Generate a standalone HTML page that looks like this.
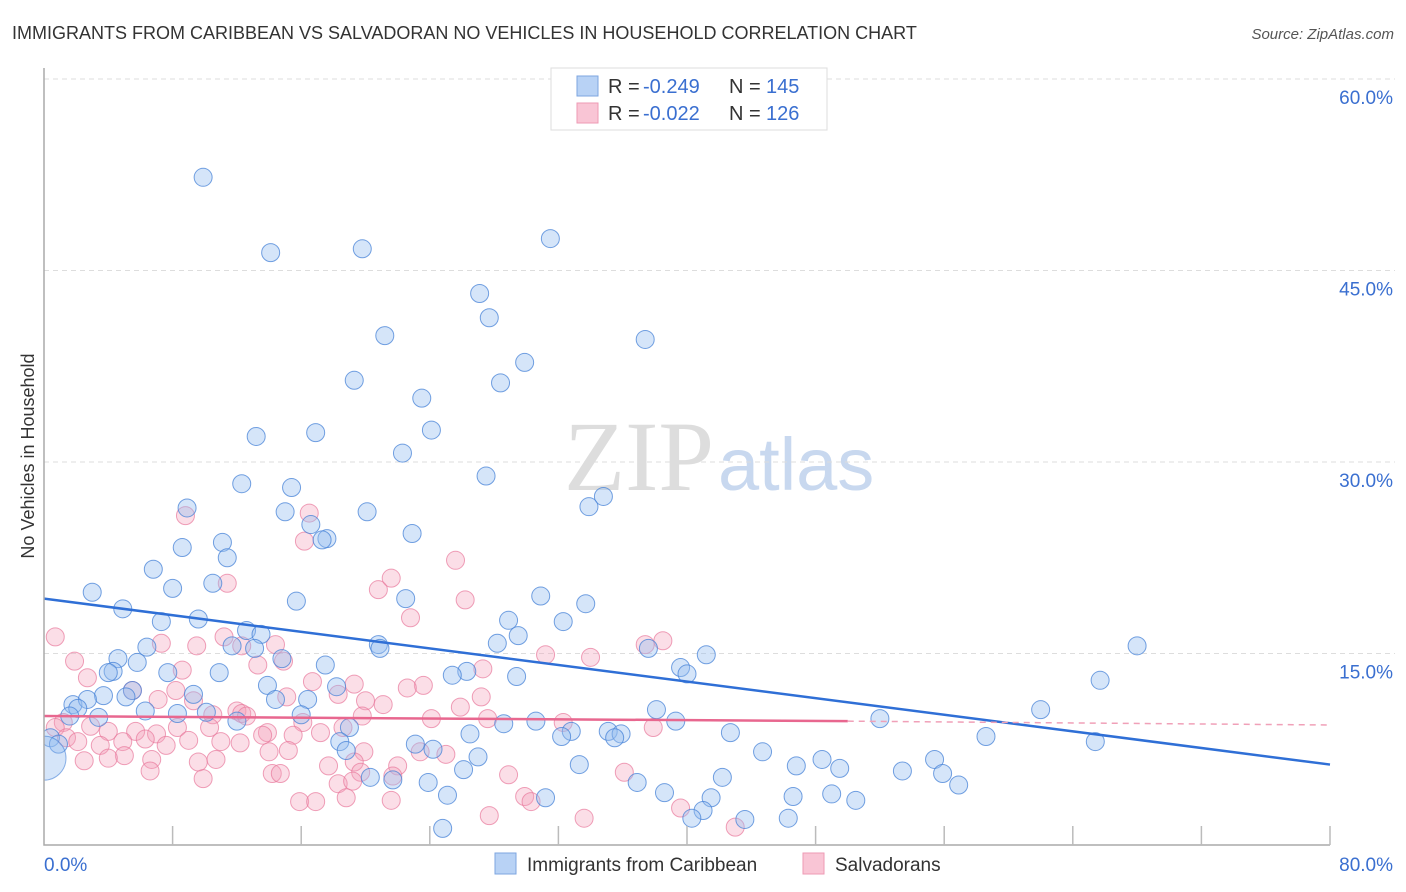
<!DOCTYPE html>
<html><head><meta charset="utf-8">
<style>
body{margin:0;background:#fff;font-family:"Liberation Sans",sans-serif;}
#wrap{position:relative;width:1406px;height:892px;overflow:hidden;}
</style></head>
<body>
<div id="wrap">
<svg id="svg" width="1406" height="892" xmlns="http://www.w3.org/2000/svg">
<defs><clipPath id="plotclip"><rect x="44" y="60" width="1360" height="785"/></clipPath></defs>
<text x="12" y="39" font-size="18" fill="#333">IMMIGRANTS FROM CARIBBEAN VS SALVADORAN NO VEHICLES IN HOUSEHOLD CORRELATION CHART</text>
<text x="1394" y="39" font-size="15" fill="#555" font-style="italic" text-anchor="end">Source: ZipAtlas.com</text>
<text transform="translate(34,456) rotate(-90)" font-size="18" fill="#333" text-anchor="middle">No Vehicles in Household</text>
<text x="714" y="490" font-size="100" fill="#ddd" text-anchor="end" font-family="Liberation Serif,serif">ZIP</text>
<text x="718" y="490" font-size="74" fill="#c8d8ef">atlas</text>
<g id="grid"></g>
<g id="marks" clip-path="url(#plotclip)"></g>
<g id="axes"></g>
<g>
<rect x="551" y="68" width="276" height="62" fill="#fff" stroke="#ddd"/>
<rect x="577" y="76" width="21" height="20" fill="#b8d2f5" stroke="#7ea6e0"/>
<rect x="577" y="103" width="21" height="20" fill="#f9c5d5" stroke="#ee9ab4"/>
<text x="608" y="93" font-size="20" fill="#333">R =</text>
<text x="643" y="93" font-size="20" fill="#3a6fd0">-0.249</text>
<text x="729" y="93" font-size="20" fill="#333">N =</text>
<text x="766" y="93" font-size="20" fill="#3a6fd0">145</text>
<text x="608" y="120" font-size="20" fill="#333">R =</text>
<text x="643" y="120" font-size="20" fill="#3a6fd0">-0.022</text>
<text x="729" y="120" font-size="20" fill="#333">N =</text>
<text x="766" y="120" font-size="20" fill="#3a6fd0">126</text>
</g>
<g>
<rect x="495" y="853" width="21" height="21" fill="#b8d2f5" stroke="#7ea6e0"/>
<text x="527" y="871" font-size="19" fill="#333">Immigrants from Caribbean</text>
<rect x="803" y="853" width="21" height="21" fill="#f9c5d5" stroke="#ee9ab4"/>
<text x="835" y="871" font-size="19" fill="#333">Salvadorans</text>
</g>
</svg>
</div>
<script>
const blueX=[9.9,14.1,19.8,31.5,27.1,27.7,21.2,37.4,29.9,19.3,28.4,23.5,24.1,16.9,13.2,22.3,27.5,12.3,15.4,34.8,33.9,8.9,15.0,20.1,16.6,17.6,17.3,22.9,11.1,8.6,11.4,6.8,10.5,8.0,3.0,30.9,22.5,15.7,33.7,4.9,9.6,7.3,28.9,32.3,12.6,13.5,29.5,28.2,20.8,11.7,20.9,6.4,13.1,37.6,68.0,14.8,4.6,5.8,41.2,17.5,39.6,40.0,4.3,4.0,7.7,10.9,26.3,25.4,29.4,65.7,13.9,5.5,18.2,9.3,3.7,5.1,14.4,16.4,1.8,2.7,2.1,6.3,10.1,38.1,62.0,3.4,1.6,8.3,12.0,16.0,52.0,30.6,39.3,28.6,19.0,32.8,35.1,26.5,35.9,42.7,32.2,35.5,58.6,0.4,65.4,18.4,23.1,24.2,18.8,44.7,0.9,27.0,55.4,48.4,33.3,46.8,49.5,26.1,53.4,55.9,20.3,42.2,21.7,36.9,23.9,56.9,38.6,25.1,49.0,46.6,31.2,41.5,50.5,41.0,40.3,43.6,46.3,24.8];
const blueY=[52.3,46.4,46.7,47.5,43.2,41.3,39.9,39.6,37.8,36.4,36.2,35.0,32.5,32.3,32.0,30.7,28.9,28.3,28.0,27.3,26.5,26.4,26.1,26.1,25.1,24.0,23.9,24.4,23.7,23.3,22.5,21.6,20.5,20.1,19.8,19.5,19.3,19.1,18.9,18.5,17.7,17.5,17.6,17.5,16.8,16.5,16.4,15.8,15.7,15.6,15.4,15.5,15.4,15.4,15.6,14.6,14.6,14.3,14.9,14.1,13.9,13.4,13.6,13.5,13.5,13.5,13.6,13.3,13.2,12.9,12.5,12.1,12.4,11.8,11.7,11.6,11.4,11.4,11.0,11.4,10.7,10.5,10.4,10.6,10.6,10.0,10.1,10.3,9.7,10.2,9.9,9.7,9.7,9.5,9.2,8.9,8.9,8.7,8.7,8.8,8.5,8.4,8.5,8.4,8.1,8.1,7.9,7.5,7.4,7.3,7.9,6.9,6.7,6.7,6.3,6.2,6.0,5.9,5.8,5.6,5.3,5.3,5.1,4.9,4.9,4.7,4.1,3.9,4.0,3.8,3.7,3.7,3.5,2.7,2.1,2.0,2.1,1.3];
const pinkX=[0.7,8.8,16.5,16.2,25.6,21.6,11.4,20.8,26.2,22.8,11.2,12.3,14.4,9.5,7.3,38.5,37.4,31.2,34.0,1.9,14.9,13.3,8.6,27.3,2.7,16.7,19.3,23.6,22.6,5.5,8.2,18.3,15.1,27.2,7.1,9.3,20.0,21.1,12.0,25.9,12.3,10.5,19.8,12.6,24.1,27.6,16.1,1.2,0.7,2.9,32.3,37.9,1.4,4.0,5.7,7.0,8.3,10.3,13.9,15.5,17.2,18.6,2.1,3.5,4.9,6.3,7.6,9.0,11.0,12.2,13.6,15.2,19.9,23.4,25.0,5.0,4.0,2.5,6.7,9.6,10.7,14.0,17.7,19.3,22.0,6.6,14.2,14.7,19.7,28.9,36.1,9.9,18.3,19.2,21.7,29.9,30.3,15.9,16.9,18.8,21.6,39.6,27.7,33.6,43.0];
const pinkY=[16.3,25.8,26.0,23.8,22.3,20.9,20.5,20.0,19.2,17.8,16.3,15.6,15.7,15.6,15.8,16.0,15.7,14.9,14.7,14.4,14.4,14.1,13.7,13.8,13.1,12.8,12.6,12.5,12.3,12.1,12.1,11.8,11.6,11.6,11.4,11.3,11.3,11.0,10.5,10.8,10.3,10.2,10.1,10.1,9.9,9.9,9.6,9.6,9.2,9.3,9.6,9.2,8.4,8.9,8.9,8.7,9.2,9.2,8.8,8.6,8.8,9.2,8.1,7.8,8.1,8.3,7.8,8.2,8.1,8.0,8.6,7.4,7.3,7.3,7.1,7.0,6.8,6.6,6.7,6.5,6.7,7.3,6.2,6.5,6.2,5.8,5.6,5.6,5.7,5.5,5.7,5.2,4.8,5.0,5.4,3.8,3.4,3.4,3.4,3.7,3.5,2.9,2.3,2.1,1.4];
const blueTrend=[19.3,6.3];   // y at x=0 and x=80
const pinkTrend=[10.1,9.7,9.4]; // y at x=0, 50, 80
const yTicks=[15,30,45,60];
const yTickLabels=["15.0%","30.0%","45.0%","60.0%"];
const NS="http://www.w3.org/2000/svg";
const X=v=>44+v/80*1286, Y=v=>845-v/15*191.5;
function mk(tag,attrs,parent){const e=document.createElementNS(NS,tag);for(const k in attrs)e.setAttribute(k,attrs[k]);document.getElementById(parent).appendChild(e);return e;}
yTicks.forEach((t,i)=>{
 const g=mk('line',{x1:44,x2:1395,y1:Y(t),y2:Y(t),stroke:'#ddd','stroke-dasharray':'5,4'},'grid');
 
 
 const l=mk('text',{x:1393,y:Y(t)+25,'font-size':19,fill:'#3a6fd0','text-anchor':'end'},'axes');
 l.textContent=yTickLabels[i];
 
 
});
const ax=mk('path',{d:'M44,68 V845 H1330',stroke:'#aaa',fill:'none','stroke-width':1.5},'axes');


for(let i=1;i<=10;i++){const t=mk('line',{x1:X(i*8),x2:X(i*8),y1:826,y2:845,stroke:'#bbb','stroke-width':1.5},'axes');
 
 }
[[0,"0.0%",'start',44],[80,"80.0%",'end',1393]].forEach(a=>{const t=mk('text',{x:a[3],y:871,'font-size':19,fill:'#3a6fd0','text-anchor':a[2]},'axes');t.textContent=a[1];
 
 });
pinkX.forEach((x,i)=>{const c=mk('circle',{cx:X(x),cy:Y(pinkY[i]),r:9,fill:'rgba(244,160,185,0.35)',stroke:'rgba(232,120,155,0.7)','stroke-width':1},'marks');
 
 });
blueX.forEach((x,i)=>{const c=mk('circle',{cx:X(x),cy:Y(blueY[i]),r:9,fill:'rgba(150,190,240,0.4)',stroke:'rgba(70,130,215,0.75)','stroke-width':1},'marks');
 
 });
const big=mk('circle',{cx:X(0),cy:Y(6.8),r:22,fill:'rgba(150,190,240,0.4)',stroke:'rgba(70,130,215,0.6)'},'marks');


const bl=mk('line',{x1:X(0),y1:Y(blueTrend[0]),x2:X(80),y2:Y(blueTrend[1]),stroke:'#2f6fd6','stroke-width':2.5},'marks');


const pl=mk('line',{x1:X(0),y1:Y(pinkTrend[0]),x2:X(50),y2:Y(pinkTrend[1]),stroke:'#e8678f','stroke-width':2.5},'marks');


const pd=mk('line',{x1:X(50),y1:Y(pinkTrend[1]),x2:X(80),y2:Y(pinkTrend[2]),stroke:'#f0a0b8','stroke-width':1.5,'stroke-dasharray':'6,5'},'marks');


</script>
</body></html>
